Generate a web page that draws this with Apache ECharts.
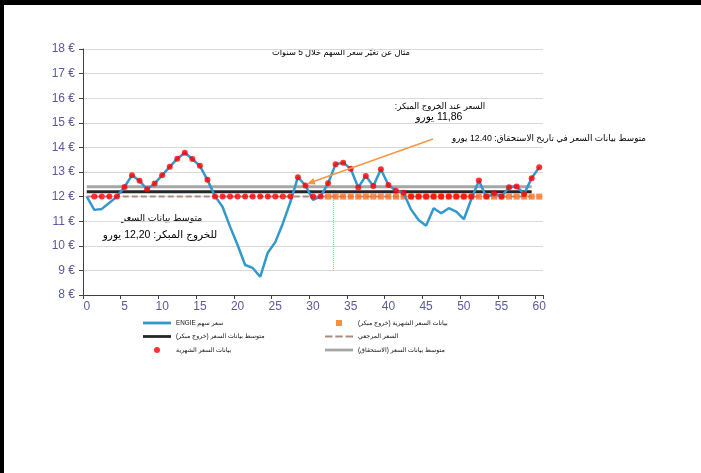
<!DOCTYPE html>
<html style="background:#fff"><head><meta charset="utf-8">
<script src="https://cdn.jsdelivr.net/npm/echarts@6/dist/echarts.min.js"></script>
<style>html,body{margin:0;padding:0;background:#fff;overflow:hidden;width:100%;height:100%}#c{width:701px;height:473px;background:#fff}</style>
</head><body><div id="c"></div>
<script>
// ---------- data ----------
const months = ['0','1','2','3','4','5','6','7','8','9','10','11','12','13','14','15','16','17','18','19','20',
  '21','22','23','24','25','26','27','28','29','30','31','32','33','34','35','36','37','38','39','40',
  '41','42','43','44','45','46','47','48','49','50','51','52','53','54','55','56','57','58','59','60'];
const engiePrice = [12.00, 11.46, 11.50, 11.75, 12.00, 12.39, 12.87, 12.64, 12.30, 12.53, 12.87,
  13.21, 13.54, 13.78, 13.53, 13.25, 12.68, 12.02, 11.59, 10.78, 10.03,
  9.22, 9.10, 8.74, 9.72, 10.15, 10.91, 11.78, 12.79, 12.45, 11.87,
  12.00, 12.54, 13.32, 13.38, 13.13, 12.37, 12.84, 12.43, 13.11, 12.47,
  12.24, 12.16, 11.48, 11.05, 10.82, 11.53, 11.32, 11.53, 11.39, 11.08,
  11.90, 12.65, 11.96, 12.14, 12.00, 12.38, 12.41, 12.11, 12.75, 13.19];
const monthlyData = [null, 12, 12, 12, 12, 12.39, 12.87, 12.64, 12.30, 12.53, 12.87,
  13.21, 13.54, 13.78, 13.53, 13.25, 12.68, 12, 12, 12, 12,
  12, 12, 12, 12, 12, 12, 12, 12.79, 12.45, 12,
  12, 12.54, 13.32, 13.38, 13.13, 12.37, 12.84, 12.43, 13.11, 12.47,
  12.24, 12.16, 12, 12, 12, 12, 12, 12, 12, 12,
  12, 12.65, 12, 12.14, 12, 12.38, 12.41, 12.11, 12.75, 13.19];
const earlyExitMonthly = [null, null, null, null, null, null, null, null, null, null, null,
  null, null, null, null, null, null, null, null, null, null,
  null, null, null, null, null, null, null, null, null, null,
  null, 12, 12, 12, 12, 12, 12, 12, 12, 12,
  12, 12, 12, 12, 12, 12, 12, 12, 12, 12,
  12, 12, 12, 12, 12, 12, 12, 12, 12, 12];
const avgMaturity = 12.40;
const avgEarlyExit = 12.20;
const referencePrice = 12.00;
const levelLineStart = '0';
const levelLineEnd = '59';

// ---------- texts ----------
const RTL = s => '\u202B' + s + '\u202C';
const nPrice = RTL('سعر سهم ENGIE');
const nAvgEarly = RTL('متوسط بيانات السعر (خروج مبكر)');
const nMonthly = RTL('بيانات السعر الشهرية');
const nMonthlyEarly = RTL('بيانات السعر الشهرية (خروج مبكر)');
const nRef = RTL('السعر المرجعي');
const nAvgMat = RTL('متوسط بيانات السعر (الاستحقاق)');

const FONT = '"Liberation Sans", Arial, "DejaVu Sans", sans-serif';
const axisCol = '#5a5a9c';

const lineIcon = 'path://M0,0H30V3H0Z';
const dashIcon = 'path://M0,0H8V2H0Z M11,0H19V2H11Z M22,0H30V2H22Z';
const sqIcon = 'path://M0,0H1V1H0Z';

const chart = echarts.init(document.getElementById('c'), null, {renderer: 'canvas'});
chart.setOption({
  animation: false,
  backgroundColor: '#fff',
  textStyle: {fontFamily: FONT},
  grid: {left: 83, top: 49, width: 460, height: 246, containLabel: false},
  xAxis: {
    type: 'category', data: months, boundaryGap: true,
    axisLine: {lineStyle: {color: '#404040', width: 1}},
    axisTick: {show: true, interval: 4, length: 4, lineStyle: {color: '#404040'}},
    axisLabel: {interval: 4, color: axisCol, fontSize: 12, margin: 6, fontFamily: FONT},
    splitLine: {show: false}
  },
  yAxis: {
    type: 'value', min: 8, max: 18, interval: 1,
    axisLine: {show: true, lineStyle: {color: '#404040', width: 1}},
    axisTick: {show: true, length: 4, lineStyle: {color: '#404040'}},
    axisLabel: {color: axisCol, fontSize: 12, margin: 8, fontFamily: FONT, formatter: v => v + ' €'},
    splitLine: {lineStyle: {color: '#d9d9d9', width: 1}}
  },
  legend: [
    {left: 143, top: 318, orient: 'vertical', itemWidth: 28, itemHeight: 6, itemGap: 3.5, padding: 0,
     textStyle: {fontSize: 6.3, color: '#111', lineHeight: 10, fontFamily: FONT},
     data: [{name: nPrice, icon: lineIcon}, {name: nAvgEarly, icon: lineIcon}, {name: nMonthly, icon: 'circle'}]},
    {left: 325, top: 318, orient: 'vertical', itemWidth: 28, itemHeight: 6, itemGap: 3.5, padding: 0,
     textStyle: {fontSize: 6.3, color: '#111', lineHeight: 10, fontFamily: FONT},
     data: [{name: nMonthlyEarly, icon: sqIcon}, {name: nRef, icon: dashIcon}, {name: nAvgMat, icon: lineIcon}]}
  ],
  series: [
    {name: nAvgMat, type: 'line', color: '#a6a6a6', symbol: 'none', lineStyle: {width: 3, color: '#a6a6a6'},
     data: [[levelLineStart, avgMaturity], [levelLineEnd, avgMaturity]], z: 2},
    {name: nAvgEarly, type: 'line', color: '#262626', symbol: 'none', lineStyle: {width: 3, color: '#262626'},
     data: [[levelLineStart, avgEarlyExit], [levelLineEnd, avgEarlyExit]], z: 2},
    {name: nRef, type: 'line', color: '#a68f80', symbol: 'none', lineStyle: {width: 2, color: '#a68f80', type: [6, 3]},
     data: [[levelLineStart, referencePrice], [levelLineEnd, referencePrice]], z: 2},
    {name: nMonthlyEarly, type: 'scatter', symbol: 'rect', symbolSize: 6, itemStyle: {color: '#ff6d1f'},
     data: earlyExitMonthly, z: 3},
    {name: nPrice, type: 'line', color: '#3399cc', symbol: 'none', lineStyle: {width: 2.5, color: '#3399cc'},
     data: engiePrice, z: 4},
    {name: nMonthly, type: 'scatter', symbol: 'circle', symbolSize: 6, itemStyle: {color: '#ff0000'},
     data: monthlyData, z: 5}
  ],
  graphic: [
    {type: 'rect', shape: {x: 0, y: 0, width: 701, height: 5}, style: {fill: '#000'}},
    {type: 'rect', shape: {x: 0, y: 0, width: 4, height: 473}, style: {fill: '#000'}},
    {type: 'text', x: 341, y: 53, style: {text: RTL('مثال عن تغيّر سعر السهم خلال 5 سنوات'), font: '8.3px ' + FONT, fill: '#000', align: 'center', verticalAlign: 'middle'}},
    {type: 'text', x: 440, y: 107, style: {text: RTL('السعر عند الخروج المبكر:'), font: '8.6px ' + FONT, fill: '#000', align: 'center', verticalAlign: 'middle'}},
    {type: 'text', x: 439, y: 117, style: {text: RTL('11,86 يورو'), font: '10.5px ' + FONT, fill: '#000', align: 'center', verticalAlign: 'middle'}},
    {type: 'text', x: 549, y: 139, style: {text: RTL('متوسط بيانات السعر في تاريخ الاستحقاق: 12.40 يورو'), font: '8.8px ' + FONT, fill: '#000', align: 'center', verticalAlign: 'middle'}},
    {type: 'text', x: 162, y: 218, style: {text: RTL('متوسط بيانات السعر'), font: '9.4px ' + FONT, fill: '#000', align: 'center', verticalAlign: 'middle'}},
    {type: 'text', x: 160, y: 235, style: {text: RTL('للخروج المبكر: 12,20 يورو'), font: '10.5px ' + FONT, fill: '#000', align: 'center', verticalAlign: 'middle'}},
    {type: 'line', shape: {x1: 433, y1: 139, x2: 312, y2: 182}, style: {stroke: '#f79646', lineWidth: 1.5}, z: 10},
    {type: 'polygon', shape: {points: [[307, 184], [315.7, 184.6], [313.3, 178]]}, style: {fill: '#f79646'}, z: 10},
    {type: 'line', shape: {x1: 333.5, y1: 190, x2: 333.5, y2: 270}, style: {stroke: '#f4a582', lineWidth: 1, lineDash: [1, 1]}, z: 1}
  ]
});
</script></body></html>
